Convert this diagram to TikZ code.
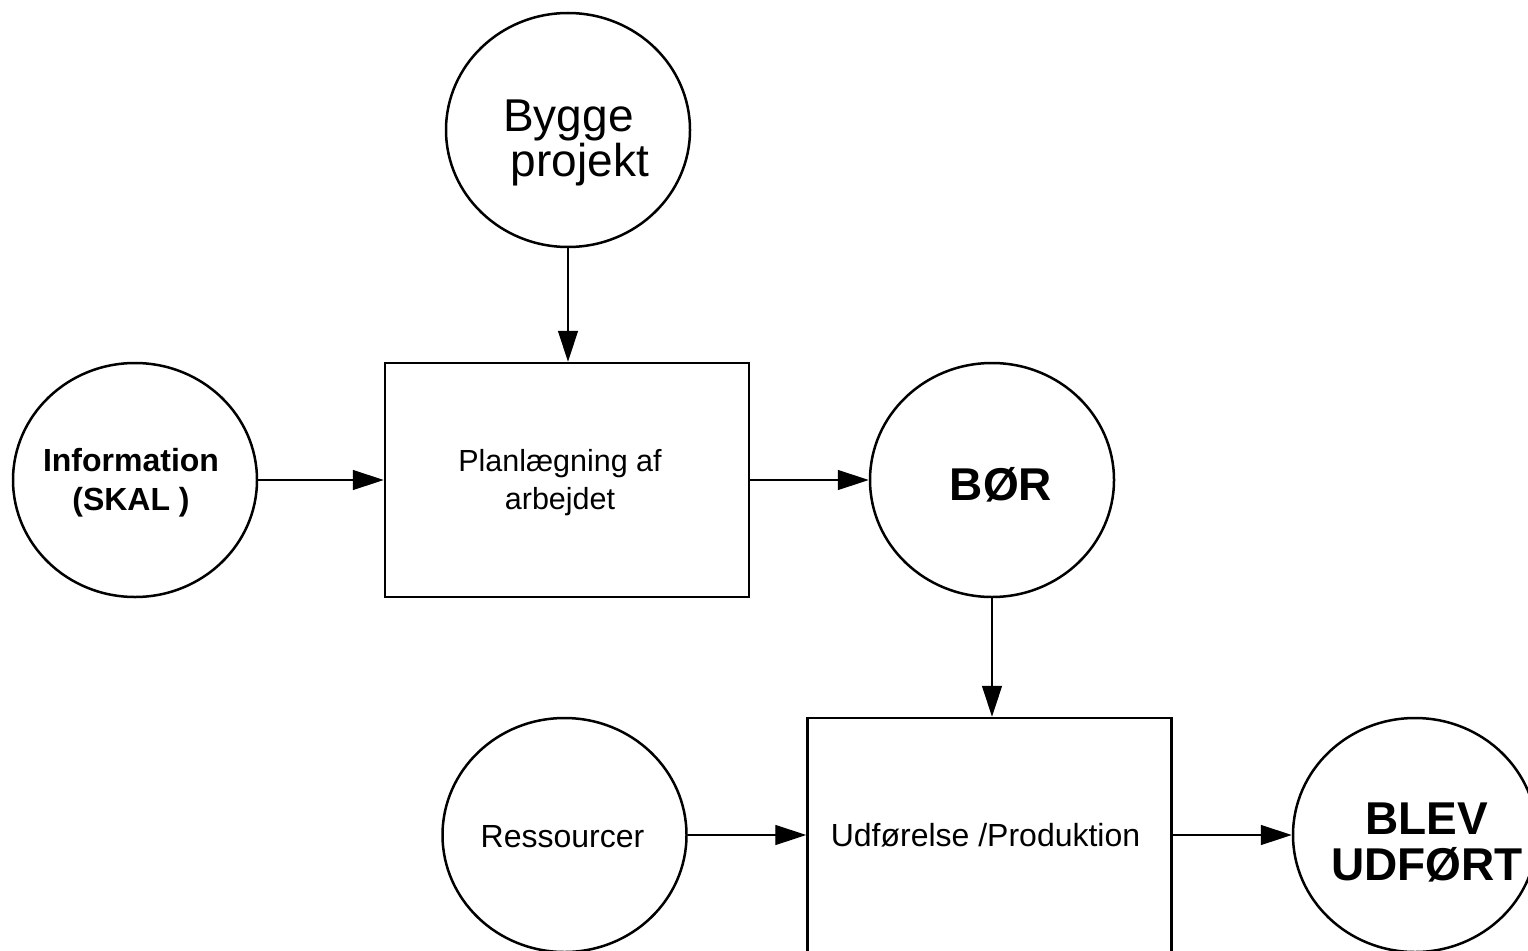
\documentclass[tikz,border=0pt]{standalone}
\usepackage{fontspec}
\setmainfont{Liberation Sans}
\usetikzlibrary{shapes.geometric,arrows.meta}

\tikzset{every picture/.style={line width=2.5pt}}
\tikzset{
  circ/.style={draw, ellipse, minimum width=244pt, minimum height=234pt, inner sep=0pt},
  box/.style={draw, rectangle, minimum width=364pt, minimum height=234pt, inner sep=0pt},
  txt/.style={align=center, inner sep=0pt},
  flow/.style={line width=1.4pt, -{Triangle[length=31pt,width=20pt]}},
}

\begin{document}
\begin{tikzpicture}[x=1pt,y=1pt,yscale=-1,xscale=1]
\useasboundingbox (0,0) rectangle (1528,950);

%Shape: Circle [bygge]
\node [circ, label={[txt, font=\fontsize{46}{45}\selectfont, shift={(12,-13)}]center:Bygge\hspace*{0.5em}\\projekt}] (bygge) at (568,130) {};
%Shape: Circle [info]
\node [circ, label={[txt, font=\bfseries\fontsize{32}{39}\selectfont, shift={(-4,-3)}]center:Information\\(SKAL )}] (info) at (135,480) {};
%Shape: Rectangle [plan]
\node [box, label={[txt, font=\fontsize{30.5}{38}\selectfont, shift={(-7,-3)}]center:Planlægning af\\arbejdet}] (plan) at (567,480) {};
%Shape: Circle [bor]
\node [circ, label={[txt, font=\bfseries\fontsize{46}{46}\selectfont, shift={(9,-5)}]center:BØR}] (bor) at (992,480) {};
%Shape: Circle [res]
\node [circ, label={[txt, font=\fontsize{32}{38}\selectfont, shift={(-2,-2)}]center:Ressourcer}] (res) at (564.5,835) {};
%Shape: Rectangle [udf]
\node [box, label={[txt, font=\fontsize{32}{38}\selectfont, shift={(-4,0)}]center:Udførelse /Produktion}] (udf) at (989.5,835) {};
%Shape: Circle [blev]
\node [circ, label={[txt, font=\bfseries\fontsize{46}{46}\selectfont, shift={(12,-7)}]center:BLEV\\UDFØRT}] (blev) at (1415,835) {};

%Straight Lines
\draw [flow] (bygge.south) -- (bygge.south |- plan.north);
\draw [flow] (info.east) -- (plan.west);
\draw [flow] (plan.east) -- (bor.west);
\draw [flow] (bor.south) -- (bor.south |- udf.north);
\draw [flow] (res.east) -- (udf.west);
\draw [flow] (udf.east) -- (blev.west);

\end{tikzpicture}
\end{document}
